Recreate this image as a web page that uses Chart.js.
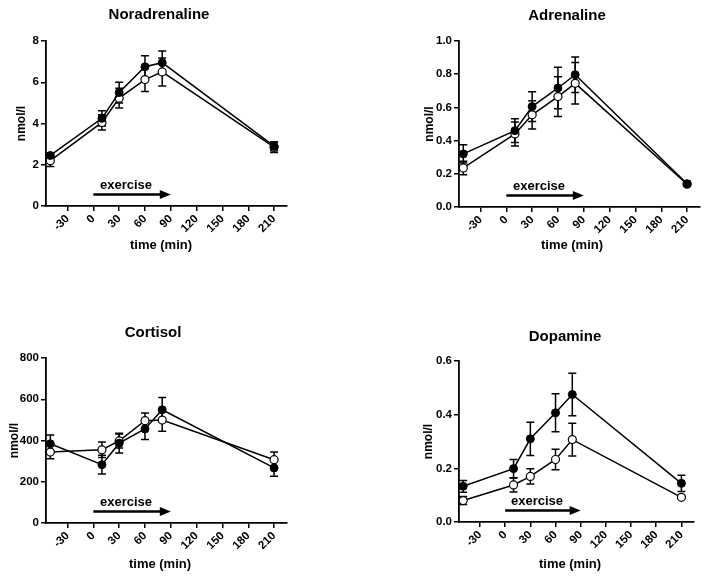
<!DOCTYPE html>
<html>
<head>
<meta charset="utf-8">
<script src="https://cdn.jsdelivr.net/npm/chart.js@4.4.1/dist/chart.umd.min.js"></script>
<style>
    html, body { margin: 0; padding: 0; background: #fff; }
    #wrap { position: relative; width: 709px; height: 580px; overflow: hidden; }
    #wrap canvas { position: absolute; }
</style>
</head>
<body>
<div id="wrap">
    <canvas id="c1"></canvas>
    <canvas id="c2"></canvas>
    <canvas id="c3"></canvas>
    <canvas id="c4"></canvas>
</div>
<script>
// ---- data ----
const times = [-50, 10, 30, 60, 80, 210];
const xTicks = [-30, 0, 30, 60, 90, 120, 150, 180, 210];

const noraFilled = [2.45, 4.25, 5.5, 6.75, 6.95, 2.9];
const noraFilledErr = [0.12, 0.37, 0.5, 0.53, 0.56, 0.22];
const noraOpen = [2.2, 4.05, 5.23, 6.13, 6.5, 2.85];
const noraOpenErr = [0.28, 0.37, 0.48, 0.58, 0.68, 0.25];
const noraTicks = [0, 2, 4, 6, 8];

const adrFilled = [0.32, 0.46, 0.605, 0.717, 0.797, 0.14];
const adrFilledErr = [0.055, 0.072, 0.09, 0.125, 0.107, 0.015];
const adrOpen = [0.235, 0.44, 0.555, 0.665, 0.745, 0.137];
const adrOpenErr = [0.04, 0.072, 0.085, 0.12, 0.125, 0.012];
const adrTicks = [0, 0.2, 0.4, 0.6, 0.8, 1.0];

const corFilled = [384, 283, 387, 456, 549, 267];
const corFilledErr = [43, 46, 48, 51, 59, 40];
const corOpen = [344, 355, 398, 496, 499, 307];
const corOpenErr = [32, 38, 34, 37, 54, 37];
const corTicks = [0, 200, 400, 600, 800];

const dopFilled = [0.133, 0.199, 0.31, 0.407, 0.475, 0.144];
const dopFilledErr = [0.022, 0.034, 0.062, 0.071, 0.079, 0.03];
const dopOpen = [0.08, 0.138, 0.17, 0.233, 0.307, 0.092];
const dopOpenErr = [0.015, 0.026, 0.028, 0.038, 0.061, 0.005];
const dopTicks = [0, 0.2, 0.4, 0.6];

const FONT = '"Liberation Sans", Arial, sans-serif';

// page-pixel layout of each panel: canvas box [x,y,w,h], plot area [l,t,r,b]
const panels = [
    { id: 'c1', title: 'Noradrenaline', filled: noraFilled, filledErr: noraFilledErr, open: noraOpen, openErr: noraOpenErr, yTicks: noraTicks, dec: 0,
      box: [0, 0, 354, 290], area: [46, 41, 287, 206], titleX: 159, titleY: 15, yTitleX: 22, xTitleX: 161, xTitleY: 245 },
    { id: 'c2', title: 'Adrenaline', filled: adrFilled, filledErr: adrFilledErr, open: adrOpen, openErr: adrOpenErr, yTicks: adrTicks, dec: 1,
      box: [354, 0, 355, 290], area: [459, 41, 700, 207], titleX: 567, titleY: 16, yTitleX: 430, xTitleX: 572, xTitleY: 245 },
    { id: 'c3', title: 'Cortisol', filled: corFilled, filledErr: corFilledErr, open: corOpen, openErr: corOpenErr, yTicks: corTicks, dec: 0,
      box: [0, 290, 354, 290], area: [46, 358, 287, 523], titleX: 153, titleY: 333, yTitleX: 15, xTitleX: 160, xTitleY: 564 },
    { id: 'c4', title: 'Dopamine', filled: dopFilled, filledErr: dopFilledErr, open: dopOpen, openErr: dopOpenErr, yTicks: dopTicks, dec: 1,
      box: [354, 290, 355, 290], area: [459, 361, 694, 522], titleX: 565, titleY: 337, yTitleX: 429, xTitleX: 570, xTitleY: 564 }
];

// error bars, titles and the "exercise" arrow
const panelPlugin = {
    id: 'panel',
    beforeDatasetsDraw(chart, args, opts) {
        const ctx = chart.ctx, xs = chart.scales.x, ys = chart.scales.y;
        ctx.save();
        ctx.strokeStyle = '#000';
        ctx.lineWidth = 1.5;
        opts.errors.forEach((errs, di) => {
            const vals = chart.data.datasets[di].data;
            vals.forEach((p, i) => {
                const x = xs.getPixelForValue(p.x);
                const y1 = ys.getPixelForValue(p.y + errs[i]);
                const y2 = ys.getPixelForValue(p.y - errs[i]);
                ctx.beginPath();
                ctx.moveTo(x, y1); ctx.lineTo(x, y2);
                ctx.moveTo(x - 4, y1); ctx.lineTo(x + 4, y1);
                ctx.moveTo(x - 4, y2); ctx.lineTo(x + 4, y2);
                ctx.stroke();
            });
        });
        ctx.restore();
    },
    afterDraw(chart, args, opts) {
        const ctx = chart.ctx, xs = chart.scales.x, ys = chart.scales.y;
        const p = opts.panel, ox = p.box[0], oy = p.box[1];
        ctx.save();
        ctx.fillStyle = '#000';
        ctx.textAlign = 'center';
        ctx.textBaseline = 'middle';

        ctx.font = 'bold 15px ' + FONT;
        ctx.fillText(p.title, p.titleX - ox, p.titleY - oy);

        ctx.font = 'bold 13px ' + FONT;
        ctx.fillText('time (min)', p.xTitleX - ox, p.xTitleY - oy);

        ctx.save();
        ctx.translate(p.yTitleX - ox, (chart.chartArea.top + chart.chartArea.bottom) / 2);
        ctx.rotate(-Math.PI / 2);
        ctx.font = 'bold 12px ' + FONT;
        ctx.fillText('nmol/l', 0, 0);
        ctx.restore();

        // exercise arrow 0 -> 90 min
        const ay = ys.bottom - 11.5;
        const x0 = xs.getPixelForValue(0), x1 = xs.getPixelForValue(90);
        ctx.strokeStyle = '#000';
        ctx.lineWidth = 2.5;
        ctx.beginPath();
        ctx.moveTo(x0, ay); ctx.lineTo(x1 - 8, ay);
        ctx.stroke();
        ctx.beginPath();
        ctx.moveTo(x1, ay); ctx.lineTo(x1 - 11, ay - 4.5); ctx.lineTo(x1 - 11, ay + 4.5);
        ctx.closePath();
        ctx.fill();
        ctx.font = 'bold 13px ' + FONT;
        ctx.fillText('exercise', xs.getPixelForValue(38), ys.bottom - 21);
        ctx.restore();
    }
};

function makePanel(p) {
    const cv = document.getElementById(p.id);
    const [bx, by, bw, bh] = p.box;
    const [l, t, r, b] = p.area;
    cv.width = bw; cv.height = bh;
    cv.style.left = bx + 'px'; cv.style.top = by + 'px';
    cv.style.width = bw + 'px'; cv.style.height = bh + 'px';

    const yWidth = l - bx;
    const xHeight = by + bh - b;
    const yMax = p.yTicks[p.yTicks.length - 1];

    new Chart(cv, {
        type: 'line',
        data: {
            datasets: [
                {
                    data: times.map((x, i) => ({ x, y: p.filled[i] })),
                    borderColor: '#000', borderWidth: 1.5,
                    pointRadius: 4, pointBackgroundColor: '#000', pointBorderColor: '#000', pointBorderWidth: 1
                },
                {
                    data: times.map((x, i) => ({ x, y: p.open[i] })),
                    borderColor: '#000', borderWidth: 1.5,
                    pointRadius: 4, pointBackgroundColor: '#fff', pointBorderColor: '#000', pointBorderWidth: 1.2
                }
            ]
        },
        options: {
            responsive: false,
            animation: false,
            devicePixelRatio: 1,
            layout: { padding: { left: 0, top: t - by, right: bx + bw - r, bottom: 0 } },
            plugins: {
                legend: { display: false },
                tooltip: { enabled: false },
                title: { display: false },
                panel: { panel: p, errors: [p.filledErr, p.openErr] }
            },
            scales: {
                x: {
                    type: 'linear', min: -55, max: 225,
                    afterBuildTicks: s => { s.ticks = xTicks.map(v => ({ value: v })); },
                    afterFit: s => { s.height = xHeight; },
                    grid: { drawOnChartArea: false, drawTicks: true, tickLength: 5, color: '#000', lineWidth: 1.5 },
                    border: { display: true, color: '#000', width: 1.8 },
                    ticks: {
                        color: '#000', font: { family: FONT, size: 11.5, weight: 'bold' },
                        minRotation: 45, maxRotation: 45, padding: 1, autoSkip: false
                    }
                },
                y: {
                    type: 'linear', min: 0, max: yMax,
                    afterBuildTicks: s => { s.ticks = p.yTicks.map(v => ({ value: v })); },
                    afterFit: s => { s.width = yWidth; },
                    grid: { drawOnChartArea: false, drawTicks: true, tickLength: 5, color: '#000', lineWidth: 1.5 },
                    border: { display: true, color: '#000', width: 1.8 },
                    ticks: {
                        color: '#000', font: { family: FONT, size: 11.5, weight: 'bold' }, padding: 2,
                        callback: v => p.dec ? v.toFixed(p.dec) : String(v)
                    }
                }
            }
        },
        plugins: [panelPlugin]
    });
}

panels.forEach(makePanel);
</script>
</body>
</html>
